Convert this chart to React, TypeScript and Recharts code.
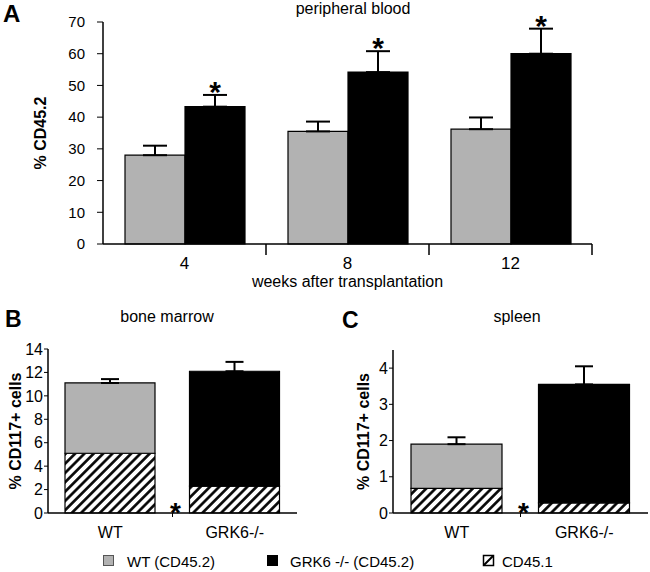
import { Bar, BarChart, Cell, ErrorBar, LabelList, XAxis, YAxis } from 'recharts';

const FONT = '"Liberation Sans", Arial, Helvetica, sans-serif';
const GREY = '#b2b2b2';

// A - peripheral blood, % CD45.2 by weeks after transplantation
const weeks = ['4', '8', '12'];
const wtBlood = [28, 35.5, 36.2];
const wtBloodSd = [3, 3.1, 3.7];
const koBlood = [43.3, 54.2, 60];
const koBloodSd = [3.7, 6.6, 7.9];
const bloodTicks = [0, 10, 20, 30, 40, 50, 60, 70];

// B / C - % CD117+ cells, stacked CD45.1 (hatched) + CD45.2
const genotypes = ['WT', 'GRK6-/-'];
const marrowCd451 = [5.1, 2.3];
const marrowCd452 = [6.0, 9.8];
const marrowSd = [0.33, 0.8];
const marrowTicks = [0, 2, 4, 6, 8, 10, 12, 14];
const spleenCd451 = [0.68, 0.28];
const spleenCd452 = [1.22, 3.27];
const spleenSd = [0.19, 0.5];
const spleenTicks = [0, 1, 2, 3, 4];

const topColors = [GREY, '#000'];

const bloodData = weeks.map((week, i) => ({
  week,
  wt: wtBlood[i],
  wtErr: [0, wtBloodSd[i]],
  ko: koBlood[i],
  koErr: [0, koBloodSd[i]],
}));

const stackData = (cd451: number[], cd452: number[], sd: number[]) =>
  genotypes.map((name, i) => ({
    name,
    cd451: cd451[i],
    cd452: cd452[i],
    err: [0, sd[i]],
  }));

const marrowData = stackData(marrowCd451, marrowCd452, marrowSd);
const spleenData = stackData(spleenCd451, spleenCd452, spleenSd);

const Hatch = ({ id }: { id: string }) => (
  <defs>
    <pattern id={id} patternUnits="userSpaceOnUse" width={6.6} height={6.6} patternTransform="rotate(45)">
      <rect width={6.6} height={6.6} fill="#fff" />
      <line x1={3.3} y1={0} x2={3.3} y2={6.6} stroke="#000" strokeWidth={2.6} />
    </pattern>
  </defs>
);

const yLabel = (text: string, baseX: number) => (props: any) => {
  const vb = props.viewBox || {};
  const cy = vb.y + vb.height / 2;
  return (
    <text
      transform={`translate(${baseX}, ${cy}) rotate(-90)`}
      textAnchor="middle"
      fontSize={16}
      fontWeight="bold"
      fontFamily={FONT}
      fill="#000"
    >
      {text}
    </text>
  );
};

const BloodTick = (props: any) => {
  const { x, y, payload } = props;
  const half = payload?.offset || 81.5;
  return (
    <g>
      <line x1={x + half} y1={y} x2={x + half} y2={y + 11} stroke="#000" strokeWidth={1.5} />
      <text x={x} y={y + 25} textAnchor="middle" fontSize={17} fontFamily={FONT} fill="#000">
        {payload.value}
      </text>
    </g>
  );
};

const GenoTick = (props: any) => {
  const { x, y, payload, index } = props;
  const half = payload?.offset || 62.5;
  return (
    <g>
      <text x={x} y={y + 25} textAnchor="middle" fontSize={16} fontFamily={FONT} fill="#000">
        {payload.value}
      </text>
      {index === 0 && (
        <g>
          <line x1={x + half} y1={y} x2={x + half} y2={y + 4} stroke="#000" />
          <text
            x={x + half + 3}
            y={y + 9}
            textAnchor="middle"
            fontSize={28}
            fontWeight="bold"
            fontFamily={FONT}
            fill="#000"
          >
            *
          </text>
        </g>
      )}
    </g>
  );
};

// significance star sits ~10px above the error bar cap
const StarLabel = (props: any) => {
  const vb = props.viewBox && props.viewBox.width != null ? props.viewBox : props;
  const i = typeof props.index === 'number' ? props.index : koBlood.indexOf(Number(props.value));
  if (i < 0 || vb.height == null) return null;
  const h = Math.abs(vb.height);
  const top = Math.min(vb.y, vb.y + vb.height);
  const pxPerUnit = h / koBlood[i];
  const capY = top - koBloodSd[i] * pxPerUnit;
  return (
    <text
      x={vb.x + vb.width / 2}
      y={capY + 7}
      textAnchor="middle"
      fontSize={30}
      fontWeight="bold"
      fontFamily={FONT}
      fill="#000"
    >
      *
    </text>
  );
};

const bloodTick = { fill: '#000', fontSize: 15, fontFamily: FONT };
const cellTick = { fill: '#000', fontSize: 16, fontFamily: FONT };

const StackPanel = ({
  data,
  ticks,
  domain,
  hatchId,
  yAxisWidth,
  labelX,
  marginRight,
  marginTop,
  width,
  barSize,
}: any) => (
  <BarChart
    width={width}
    height={250}
    data={data}
    margin={{ top: marginTop, right: marginRight, bottom: 0, left: 0 }}
    barSize={barSize}
  >
    <Hatch id={hatchId} />
    <XAxis
      dataKey="name"
      height={37}
      axisLine={{ stroke: '#000', strokeWidth: 1.5 }}
      tickLine={false}
      tickSize={0}
      tickMargin={0}
      tick={<GenoTick />}
      interval={0}
    />
    <YAxis
      width={yAxisWidth}
      domain={domain}
      ticks={ticks}
      interval={0}
      axisLine={{ stroke: '#000', strokeWidth: 1.5 }}
      tickLine={{ stroke: '#000' }}
      tickSize={4}
      tickMargin={1}
      tick={cellTick}
      label={yLabel('% CD117+ cells', labelX)}
    />
    <Bar dataKey="cd451" stackId="s" fill={`url(#${hatchId})`} stroke="#000" strokeWidth={1.2} isAnimationActive={false} />
    <Bar dataKey="cd452" stackId="s" stroke="#000" strokeWidth={1.2} isAnimationActive={false}>
      {data.map((d: any, i: number) => (
        <Cell key={d.name} fill={topColors[i]} />
      ))}
      <ErrorBar dataKey="err" direction="y" width={9} stroke="#000" strokeWidth={2} />
    </Bar>
  </BarChart>
);

export default function App() {
  return (
    <div
      style={{
        position: 'absolute',
        left: 0,
        top: 0,
        width: 650,
        height: 572,
        background: '#fff',
        fontFamily: FONT,
        overflow: 'hidden',
      }}
    >
      <div style={{ position: 'absolute', left: 0, top: 0 }}>
        <BarChart
          width={650}
          height={292}
          data={bloodData}
          margin={{ top: 22, right: 58, bottom: 0, left: 0 }}
          barSize={60}
          barGap={0}
        >
          <XAxis
            dataKey="week"
            height={48}
            axisLine={{ stroke: '#000', strokeWidth: 1.5 }}
            tickLine={false}
            tickSize={0}
            tickMargin={0}
            tick={<BloodTick />}
            interval={0}
            label={(p: any) => {
              const vb = p.viewBox || {};
              return (
                <text x={vb.x + vb.width / 2} y={vb.y + 43} textAnchor="middle" fontSize={16} fontFamily={FONT} fill="#000">
                  weeks after transplantation
                </text>
              );
            }}
          />
          <YAxis
            width={103}
            domain={[0, 70]}
            ticks={bloodTicks}
            interval={0}
            axisLine={{ stroke: '#000', strokeWidth: 1.5 }}
            tickLine={{ stroke: '#000' }}
            tickSize={6}
            tickMargin={12}
            tick={bloodTick}
            label={yLabel('% CD45.2', 46)}
          />
          <Bar dataKey="wt" fill={GREY} stroke="#000" strokeWidth={1.2} isAnimationActive={false}>
            <ErrorBar dataKey="wtErr" direction="y" width={12} stroke="#000" strokeWidth={2} />
          </Bar>
          <Bar dataKey="ko" fill="#000" stroke="#000" strokeWidth={1.2} isAnimationActive={false}>
            <ErrorBar dataKey="koErr" direction="y" width={12} stroke="#000" strokeWidth={2} />
            <LabelList dataKey="ko" content={StarLabel} />
          </Bar>
        </BarChart>
      </div>

      <div style={{ position: 'absolute', left: 0, top: 300 }}>
        <StackPanel
          data={marrowData}
          ticks={marrowTicks}
          domain={[0, 14]}
          hatchId="hatchMarrow"
          yAxisWidth={48}
          labelX={21}
          marginRight={28}
          marginTop={49}
          width={325}
          barSize={90}
        />
      </div>

      <div style={{ position: 'absolute', left: 330, top: 300 }}>
        <StackPanel
          data={spleenData}
          ticks={spleenTicks}
          domain={[0, 4.5]}
          hatchId="hatchSpleen"
          yAxisWidth={63}
          labelX={39}
          marginRight={2}
          marginTop={50}
          width={320}
          barSize={91}
        />
      </div>

      <svg
        width={650}
        height={572}
        style={{ position: 'absolute', left: 0, top: 0, pointerEvents: 'none' }}
        fontFamily={FONT}
      >
        <text x={3} y={22} fontSize={24} fontWeight="bold">A</text>
        <text x={5} y={327} fontSize={23} fontWeight="bold">B</text>
        <text x={342} y={328} fontSize={23} fontWeight="bold">C</text>

        <text x={353} y={14} fontSize={16} textAnchor="middle">peripheral blood</text>
        <text x={167} y={322} fontSize={16} textAnchor="middle">bone marrow</text>
        <text x={517} y={322} fontSize={16} textAnchor="middle">spleen</text>

        <rect x={103.5} y={555.5} width={10} height={10} fill={GREY} stroke="#555" />
        <text x={127} y={567} fontSize={15}>WT (CD45.2)</text>
        <rect x={267} y={555} width={11} height={11} fill="#000" />
        <text x={290} y={567} fontSize={15}>GRK6 -/- (CD45.2)</text>
        <rect x={483.5} y={555.5} width={10} height={10} fill="#fff" stroke="#000" strokeWidth={1.5} />
        <line x1={484} y1={565} x2={493} y2={556} stroke="#000" strokeWidth={2} />
        <text x={502} y={567} fontSize={15}>CD45.1</text>
      </svg>
    </div>
  );
}
